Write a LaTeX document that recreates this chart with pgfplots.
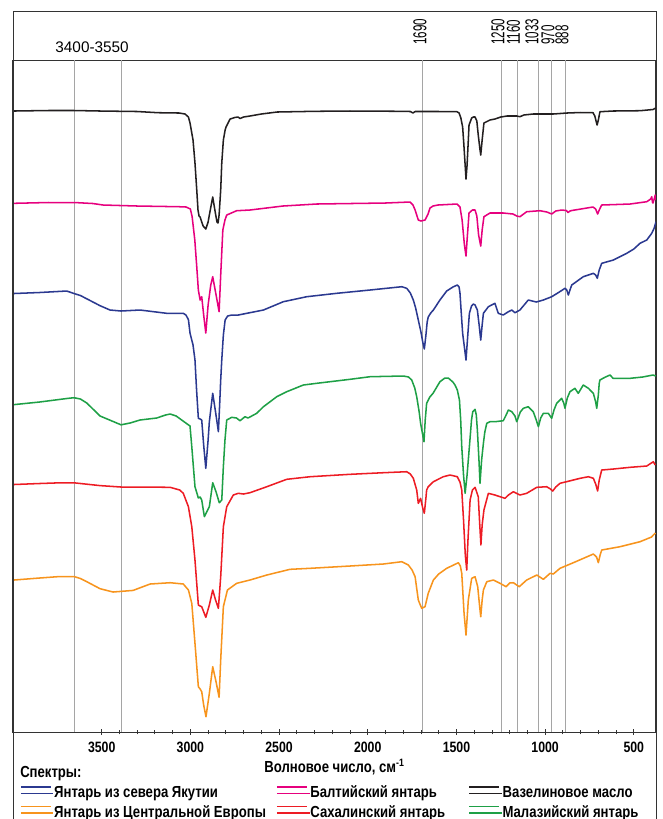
\documentclass[border=0pt]{standalone}
\usepackage{fontspec}
\setmainfont{Liberation Sans}[FakeStretch=0.82]
\newfontfamily\plainfont{Liberation Sans}
\usepackage{pgfplots}
\pgfplotsset{compat=1.18}
\definecolor{cblue}{RGB}{43,57,144}
\definecolor{cmag}{RGB}{230,0,126}
\definecolor{cblack}{RGB}{35,31,32}
\definecolor{corange}{RGB}{247,148,29}
\definecolor{cred}{RGB}{237,28,36}
\definecolor{cgreen}{RGB}{30,160,70}
\definecolor{cgrid}{RGB}{165,165,165}
\newcommand\tickfont{\bfseries\fontsize{11.25}{13}\selectfont}
\newcommand\legfont{\bfseries\fontsize{12}{14}\selectfont}
\newcommand\toplab[2]{\node[anchor=south, inner sep=0pt] at (#1pt,-33.75pt) {\rotatebox{90}{\scalebox{0.62}[1]{\fontsize{14}{16}\selectfont\plainfont #2}}};}
\begin{document}
\begin{tikzpicture}
\useasboundingbox (0,0) rectangle (496.5pt,-614.25pt);
\begin{axis}[
  at={(9.75pt,-549pt)}, anchor=south west,
  width=482.25pt, height=504pt, scale only axis,
  x dir=reverse, xmin=375, xmax=4000,
  y dir=reverse, ymin=60, ymax=732,
  ytick=\empty,
  xtick={500,1000,1500,2000,2500,3000,3500},
  xticklabels={500,1000,1500,2000,2500,3000,3500},
  minor x tick num=4,
  xtick pos=bottom,
  tick align=center,
  major tick length=4pt, minor tick length=3.5pt,
  tick style={black!80, line width=0.6pt},
  axis line style={draw=black!80, line width=0.75pt},
  xticklabel style={font=\tickfont, anchor=north, inner sep=0pt, yshift=-5.25pt},
  extra x ticks={3655,3390,1690,1245,1155,1040,962,888},
  extra x tick labels={},
  extra x tick style={grid=major, major grid style={draw=cgrid, line width=0.7pt}, major tick length=0pt},
  clip=false,
  every axis plot/.append style={line width=1.15pt, line join=round},
  legend columns=3,
  legend cell align=left,
  legend style={at={(axis description cs:0,0)}, anchor=north west, xshift=5.25pt, yshift=-40.5pt,
    draw=none, fill=none, inner sep=0pt, outer sep=0pt, row sep=3.2pt, column sep=0pt,
    font=\legfont, nodes={inner sep=0pt, text height=8.8pt, text depth=2.6pt}},
  legend image code/.code={\draw[#1, line width=1.1pt] (0pt,4.9pt) -- (22.5pt,4.9pt); \path (0pt,0pt) -- (24.5pt,0pt);},
]
% Yakutia (blue)
\addplot[cblue] coordinates {(3994,293.5)(3850,292.5)(3697,291)(3656,293.5)(3620,295.5)(3584,298.8)(3509,305.7)(3453,310)(3391,311)(3284,310)(3133,313.3)(3040,313.3)(3025,315)(3011,319.6)(3002,333)(2985,345)(2974,360)(2965,390)(2955,418.3)(2945,419)(2936,420)(2925,445)(2913,468.3)(2900,440)(2893,421.7)(2874,393.3)(2858,412)(2842,431.7)(2835,405)(2829,380)(2823,360)(2814,335)(2804,320)(2790,316)(2767,315)(2730,315)(2682,313.3)(2588,310)(2476,301.7)(2344,296.7)(2175,293.3)(1987,290)(1808,286.7)(1780,288.3)(1760,293)(1743,300)(1730,308)(1715,320)(1700,332)(1690,342)(1681,349)(1672,335)(1665,322)(1659,317)(1645,313)(1630,310)(1593,300)(1555,291)(1520,287)(1495,285)(1485,287)(1480,293.3)(1472,315)(1465,333.3)(1446,360)(1436,335)(1427,313.3)(1415,306)(1405,304)(1395,305)(1382,310)(1372,325)(1363,340)(1355,325)(1348,313.3)(1320,306.7)(1283,303.3)(1264,313.3)(1236,315)(1210,312)(1188,310)(1170,312.7)(1142,310)(1095,300)(1050,302)(1010,300)(963,296.7)(920,292)(888,288.3)(878,290)(869,295)(860,290)(850,285)(785,276.7)(728,273.3)(715,275)(706,278.3)(695,270)(681,263.3)(615,260)(540,253.3)(500,249)(465,243.3)(427,240)(399,233.3)(385,228)(375,221.7)};
\addlegendentry{\makebox[166.5pt][l]{Янтарь из севера Якутии}}
% Baltic (magenta)
\addplot[cmag] coordinates {(3994,203.3)(3800,202.5)(3644,202.6)(3550,203.5)(3492,205)(3300,206)(3064,206.7)(3024,207)(3000,209)(2990,216.7)(2975,240)(2964,266.7)(2955,290)(2945,300)(2936,296.7)(2925,315)(2913,333)(2900,305)(2885,285)(2874,276.7)(2855,295)(2838,311.7)(2829,275)(2817,230)(2805,220)(2795,215)(2739,210.7)(2664,210)(2478,206)(2288,204)(1900,203)(1762,202)(1745,205)(1733,210)(1715,220)(1700,221)(1677,220)(1660,214)(1649,208)(1632,206)(1604,205)(1497,204)(1480,207)(1468,220)(1455,245)(1446,256)(1440,240)(1429,213)(1410,210)(1395,210)(1385,216)(1375,235)(1363,246)(1355,230)(1345,216.7)(1311,213)(1236,213)(1181,214)(1160,216)(1142,216.7)(1104,211.7)(1029,210.7)(990,212)(963,214)(940,211)(907,210)(880,210.5)(871,212.5)(860,211)(850,210.5)(730,207)(715,209)(704,214)(695,210)(681,205)(600,204.5)(521,204)(427,201.7)(405,199)(399,196.7)(395,202)(392,203)(385,199)(379,195)(376,200)};
\addlegendentry{\makebox[118.5pt][l]{Балтийский янтарь}}
% Vaseline oil (black)
\addplot[cblack] coordinates {(3994,111)(3800,110.5)(3656,110.5)(3509,111)(3300,111.5)(3182,112.7)(3064,113)(3030,114)(3011,117)(3002,123)(2985,140)(2974,163)(2964,190)(2957,210)(2951,216)(2945,217)(2936,222)(2928,226)(2913,229)(2900,222)(2893,215)(2874,197)(2860,212)(2850,222)(2844,223)(2838,215)(2829,190)(2823,163)(2814,140)(2804,130)(2799,127)(2776,119)(2750,117.5)(2731,117)(2720,118.5)(2700,117)(2664,116)(2600,114)(2511,112)(2300,111.3)(2100,111)(1800,111.3)(1760,111.5)(1745,113)(1733,111.5)(1600,111.5)(1497,111.7)(1485,113)(1475,118)(1465,127)(1458,145)(1451,165)(1446,179)(1440,165)(1433,140)(1429,125)(1414,118)(1405,117)(1395,117)(1385,121)(1377,135)(1367,150)(1363,155)(1355,140)(1345,123)(1311,120)(1283,119)(1250,117)(1215,116)(1160,116)(1142,116.7)(1120,115)(1068,114)(1000,114)(955,114)(877,113)(800,112.5)(730,112.7)(720,116)(710,123)(707,125)(700,120)(691,111.7)(617,111)(465,110.7)(392,109.5)(376,108)};
\addlegendentry{Вазелиновое масло}
% Central Europe (orange)
\addplot[corange] coordinates {(3994,580)(3850,578)(3735,576.5)(3656,576.5)(3620,578.5)(3584,581.7)(3509,588.7)(3436,592)(3323,590.4)(3227,584)(3114,582.7)(3040,584)(3011,590)(2992,603.3)(2974,643.3)(2955,686.7)(2945,689)(2936,691.7)(2925,705)(2912,716.7)(2893,693.3)(2874,666.7)(2855,682)(2838,697.3)(2829,660)(2814,606.7)(2791,590)(2739,583.3)(2664,580)(2569,575)(2438,569.3)(2325,568.3)(2100,566)(1912,564)(1808,561.7)(1771,565)(1750,570)(1733,576.7)(1715,600)(1696,608.3)(1677,606.7)(1659,593.3)(1630,580)(1600,574)(1555,568.3)(1489,562.7)(1478,566)(1470,573.3)(1457,613.3)(1446,635)(1433,600)(1414,578.3)(1395,576.7)(1380,586.7)(1370,605)(1363,616.7)(1355,600)(1348,590)(1329,581.7)(1292,580)(1254,583.3)(1220,586.7)(1200,583)(1179,582.7)(1146,586.7)(1104,580)(1047,575)(1010,579.3)(972,573.3)(954,574)(916,568.3)(841,562.7)(728,554)(710,557)(700,562.7)(690,555)(681,550)(578,546.7)(465,541.7)(400,537)(390,535)(378,533)};
\addlegendentry{\makebox[166.5pt][l]{Янтарь из Центральной Европы}}
% Sakhalin (red)
\addplot[cred] coordinates {(3994,484.5)(3850,483.5)(3735,482.8)(3656,482.8)(3509,485.6)(3391,487)(3284,487)(3114,487.3)(3060,490)(3040,493.3)(3011,506.7)(2992,526.7)(2974,560)(2955,605)(2945,606)(2936,606.7)(2913,617.3)(2893,605)(2874,590)(2858,600)(2842,608.3)(2829,576.7)(2814,526.7)(2795,506.7)(2758,495)(2730,493.3)(2701,494)(2664,492.7)(2569,486.7)(2457,479.3)(2325,476.7)(2100,474.3)(1912,472.7)(1780,471.7)(1760,474)(1743,478.3)(1724,490)(1715,503.3)(1702,498.3)(1690,508)(1681,513.3)(1672,498)(1668,490)(1659,486.7)(1630,481.7)(1611,480)(1574,476.7)(1536,475)(1495,476.7)(1480,482)(1470,490)(1460,520)(1450,555)(1442,570)(1435,540)(1423,500)(1410,490)(1395,487.3)(1377,496.7)(1370,520)(1362,545)(1355,525)(1345,510)(1320,493.3)(1283,495)(1254,496.7)(1226,498.3)(1207,495)(1179,491.7)(1142,495)(1104,493.3)(1047,487.3)(991,486.7)(970,489)(957,491)(940,487)(916,483.3)(841,480)(803,478.3)(756,476.7)(728,478.3)(715,484)(704,491)(695,480)(681,470)(615,469)(521,467.3)(427,466)(390,461.7)(379,465)};
\addlegendentry{\makebox[118.5pt][l]{Сахалинский янтарь}}
% Malaysia (green)
\addplot[cgreen] coordinates {(3994,404.6)(3850,402)(3697,398.5)(3656,397.7)(3620,399)(3584,403)(3509,416)(3391,424.8)(3340,423)(3284,420)(3190,418)(3140,415)(3114,414)(3080,416)(3049,420)(3002,426)(2992,446.7)(2974,486.7)(2955,498)(2945,497)(2936,500)(2921,516.7)(2893,506.7)(2874,482.7)(2855,492)(2837,502.7)(2823,500)(2814,466.7)(2805,440)(2795,420)(2767,417.3)(2740,418)(2720,420.7)(2692,416.7)(2675,418)(2626,413.3)(2588,406.7)(2513,396.7)(2457,391.7)(2363,385)(2288,383.3)(2100,379.3)(1987,376.7)(1799,376)(1770,377)(1752,380)(1735,388)(1724,396.7)(1710,412)(1702,423.3)(1690,435)(1683,441.7)(1676,420)(1668,403.3)(1650,397)(1632,393.3)(1593,381.7)(1565,378)(1546,378)(1520,382)(1508,385)(1495,390)(1483,400)(1476,420)(1470,446.7)(1460,475)(1451,493.3)(1440,475)(1427,446.7)(1415,420)(1408,411.7)(1395,409.3)(1388,415)(1382,430)(1373,460)(1367,483.3)(1358,460)(1348,443.3)(1340,432)(1329,423.3)(1311,421.7)(1283,421.7)(1236,420.7)(1220,415)(1207,410)(1188,411.7)(1170,416)(1160,421.7)(1140,412)(1123,408.3)(1095,406.7)(1067,411.7)(1050,420)(1038,426.7)(1025,418)(1010,413.3)(982,413.3)(963,418.3)(950,410)(935,403.3)(907,398.3)(895,403)(888,408.3)(875,398)(860,391.7)(832,388.3)(813,393.3)(785,385)(756,388.3)(728,393.3)(715,402)(709,408.3)(700,395)(695,383.3)(691,380)(660,377)(634,375)(617,378.3)(521,378.3)(450,377)(392,375)(376,376)};
\addlegendentry{Малазийский янтарь}
\node[anchor=base, inner sep=0pt, yshift=6pt] at (axis cs:3554,60) {\fontsize{11.5}{13}\selectfont\plainfont 3400-3550};
\node[anchor=base, inner sep=0pt, font=\legfont, yshift=-30pt] at (axis description cs:0.5,0) {Волновое число, см\textsuperscript{-1}};
\end{axis}
\draw[black!80, line width=0.75pt] (9.75pt,-614.25pt) -- (9.75pt,-8.25pt) -- (492pt,-8.25pt) -- (492pt,-614.25pt);
\node[anchor=base west, inner sep=0pt, font=\legfont] at (15pt,-582.75pt) {Спектры:};
% top band labels (text)
\toplab{315}{1690}
\toplab{373.5}{1250}
\toplab{385}{1160}
\toplab{399}{1033}
\toplab{411}{970}
\toplab{421.5}{888}
\end{tikzpicture}
\end{document}
